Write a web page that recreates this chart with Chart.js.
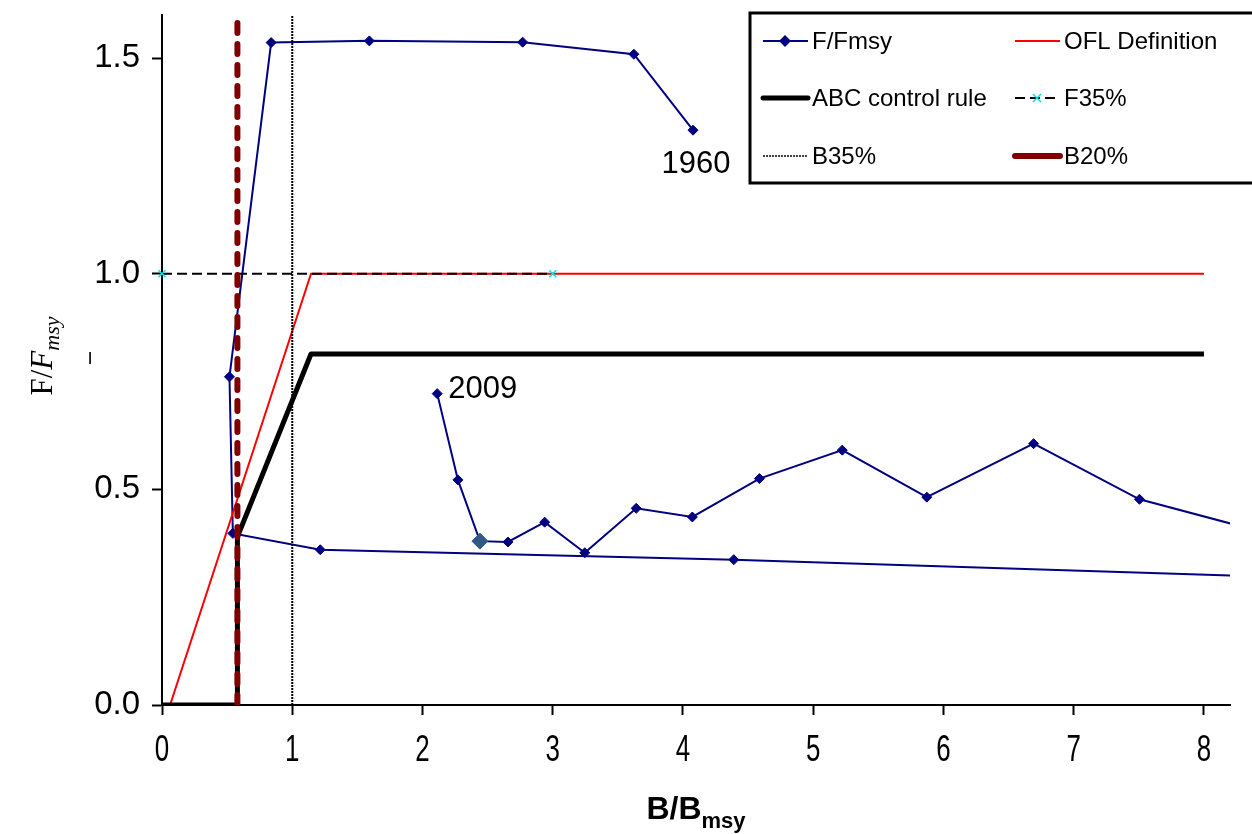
<!DOCTYPE html>
<html>
<head>
<meta charset="utf-8">
<script src="https://cdn.jsdelivr.net/npm/chart.js@4/dist/chart.umd.min.js"></script>
<style>
	body { margin: 0; background: #fff; }
	#wrap { width: 1252px; height: 834px; position: relative; }
</style>
</head>
<body>
<div id="wrap"><canvas id="chart"></canvas></div>
<script>
// stock trajectory, first point is 1960, last is 2009
const trajB = [4.077, 3.623, 2.769, 1.592, 0.838, 0.518, 0.544, 1.215, 4.39, 9.6, 9.0, 7.505, 6.692, 5.872, 5.223, 4.587, 4.072, 3.641, 3.246, 2.938, 2.656, 2.441, 2.272, 2.113]
const trajF = [1.333, 1.509, 1.537, 1.540, 1.536, 0.761, 0.398, 0.360, 0.337, 0.287, 0.357, 0.477, 0.606, 0.482, 0.591, 0.525, 0.436, 0.456, 0.353, 0.424, 0.378, 0.380, 0.522, 0.722]
const firstYear = "1960"
const lastYear = "2009"
const markedPoint = 21

// harvest control rule lines
const oflB = [0.062, 1.144, 8]
const oflF = [0, 1, 1]
const abcB = [0, 0.579, 0.579, 1.144, 8]
const abcF = [0, 0, 0.39, 0.814, 0.814]
const f35B = [0, 3]
const f35F = [1, 1]
const b35B = [1, 1]
const b35F = [0, 1.6]
const b20B = [0.579, 0.579]
const b20F = [0, 1.6]

const xTicks = [0, 1, 2, 3, 4, 5, 6, 7, 8]
const yTicks = [0, 0.5, 1, 1.5]

const pts = (xs, ys) => xs.map((x, i) => ({ x: x, y: ys[i] }))

const datasets = [
	{
		label: "F/Fmsy",
		data: pts(trajB, trajF),
		borderColor: "#000080",
		borderWidth: 2,
		pointStyle: "rectRot",
		pointRadius: trajB.map((v, i) => i == markedPoint ? 8 : 5),
		pointBackgroundColor: trajB.map((v, i) => i == markedPoint ? "#2f5a88" : "#000080"),
		pointBorderColor: trajB.map((v, i) => i == markedPoint ? "#2f5a88" : "#000080"),
		pointBorderWidth: 1,
		order: 6,
		legendMarker: "rectRot",
	},
	{
		label: "OFL Definition",
		data: pts(oflB, oflF),
		borderColor: "#ff0000",
		borderWidth: 2,
		pointRadius: 0,
		order: 5,
	},
	{
		label: "ABC control rule",
		data: pts(abcB, abcF),
		borderColor: "#000000",
		borderWidth: 5,
		borderJoinStyle: "round",
		pointRadius: 0,
		order: 4,
	},
	{
		label: "F35%",
		data: pts(f35B, f35F),
		borderColor: "#000000",
		borderWidth: 2,
		borderDash: [10, 5],
		pointStyle: "crossRot",
		pointRadius: 5,
		pointBorderColor: "#00e5e5",
		pointBorderWidth: 1.5,
		clip: 8,
		order: 3,
		legendMarker: "crossRot",
	},
	{
		label: "B35%",
		data: pts(b35B, b35F),
		borderColor: "#000000",
		borderWidth: 2,
		borderDash: [2, 1],
		pointRadius: 0,
		order: 2,
	},
	{
		label: "B20%",
		data: pts(b20B, b20F),
		borderColor: "#800000",
		borderWidth: 6,
		borderDash: [10, 11],
		borderCapStyle: "round",
		pointRadius: 0,
		order: 1,
		legendDash: [],
	},
]

// boxed two-column legend in the top right corner
const boxLegend = {
	id: "boxLegend",
	afterDraw(chart) {
		const ctx = chart.ctx
		ctx.save()
		ctx.lineWidth = 3
		ctx.strokeStyle = "#000"
		ctx.fillStyle = "#fff"
		ctx.fillRect(750, 13, 510, 170)
		ctx.strokeRect(750, 13, 510, 170)
		const cols = [763, 1015]
		const rows = [41, 98, 156]
		chart.data.datasets.forEach((ds, i) => {
			const x = cols[i % 2]
			const y = rows[Math.floor(i / 2)]
			ctx.beginPath()
			ctx.setLineDash(ds.legendDash || (ds.label == "B35%" ? [2, 1] : ds.borderDash) || [])
			ctx.lineCap = ds.borderWidth >= 5 ? "round" : "butt"
			ctx.strokeStyle = ds.borderColor
			ctx.lineWidth = ds.label == "B35%" ? 1.5 : ds.borderWidth
			ctx.moveTo(x, y)
			ctx.lineTo(x + 45, y)
			ctx.stroke()
			ctx.setLineDash([])
			if (ds.legendMarker == "rectRot") {
				ctx.fillStyle = ds.borderColor
				ctx.beginPath()
				ctx.moveTo(x + 22, y - 6); ctx.lineTo(x + 28, y); ctx.lineTo(x + 22, y + 6); ctx.lineTo(x + 16, y)
				ctx.closePath()
				ctx.fill()
			} else if (ds.legendMarker == "crossRot") {
				ctx.strokeStyle = "#00e5e5"
				ctx.lineWidth = 1.5
				ctx.beginPath()
				ctx.moveTo(x + 18, y - 4); ctx.lineTo(x + 26, y + 4)
				ctx.moveTo(x + 26, y - 4); ctx.lineTo(x + 18, y + 4)
				ctx.stroke()
			}
			ctx.fillStyle = "#000"
			ctx.font = '24px "Liberation Sans", Arial, sans-serif'
			ctx.textBaseline = "middle"
			ctx.textAlign = "left"
			ctx.fillText(ds.label, x + 49, y + 1)
		})
		ctx.restore()
	},
}

// condensed x tick labels, year labels, and the axis titles with subscripts
const annotations = {
	id: "annotations",
	afterDraw(chart) {
		const ctx = chart.ctx
		const xs = chart.scales.x
		ctx.save()
		ctx.fillStyle = "#000"
		ctx.textBaseline = "middle"
		ctx.textAlign = "center"
		ctx.font = '36px "Liberation Sans", Arial, sans-serif'
		xTicks.forEach(v => {
			ctx.save()
			ctx.translate(xs.getPixelForValue(v), 751)
			ctx.scale(0.72, 1)
			ctx.fillText(String(v), 0, 0)
			ctx.restore()
		})

		const meta = chart.getDatasetMeta(0)
		const first = meta.data[0]
		const last = meta.data[meta.data.length - 1]
		ctx.font = '31px "Liberation Sans", Arial, sans-serif'
		ctx.fillText(firstYear, first.x + 3, first.y + 34)
		ctx.textAlign = "left"
		ctx.fillText(lastYear, last.x + 11, last.y - 4)

		// stray tick beside the y title
		ctx.save()
		ctx.font = 'bold 13px "Liberation Sans", Arial, sans-serif'
		ctx.textAlign = "center"
		ctx.fillText("|", 90, 357)
		ctx.restore()

		// x title: B/Bmsy
		const area = chart.chartArea
		const cx = (area.left + area.right) / 2
		ctx.textBaseline = "alphabetic"
		const bigX = 'bold 32px "Liberation Sans", Arial, sans-serif'
		const subX = 'bold 22px "Liberation Sans", Arial, sans-serif'
		ctx.font = bigX
		const wMain = ctx.measureText("B/B").width
		ctx.font = subX
		const wSub = ctx.measureText("msy").width
		let x0 = cx - (wMain + wSub) / 2
		ctx.font = bigX
		ctx.fillText("B/B", x0, 819)
		ctx.font = subX
		ctx.fillText("msy", x0 + wMain, 828)

		// y title: F/Fmsy, rotated
		ctx.translate(52, 356)
		ctx.rotate(-Math.PI / 2)
		const big = '31px "Liberation Serif", "Times New Roman", serif'
		const bigIt = 'italic 31px "Liberation Serif", "Times New Roman", serif'
		const sub = 'italic 22px "Liberation Serif", "Times New Roman", serif'
		ctx.font = big
		const wA = ctx.measureText("F/").width
		ctx.font = bigIt
		const wB = ctx.measureText("F").width
		ctx.font = sub
		const wC = ctx.measureText("msy").width
		x0 = -(wA + wB + wC) / 2
		ctx.font = big
		ctx.fillText("F/", x0, 0)
		ctx.font = bigIt
		ctx.fillText("F", x0 + wA, 0)
		ctx.font = sub
		ctx.fillText("msy", x0 + wA + wB, 7)
		ctx.restore()
	},
}

const axisStyle = {
	border: { display: true, color: "#000", width: 2 },
	grid: { drawOnChartArea: false, drawTicks: true, tickLength: 10, tickColor: "#000", tickWidth: 2 },
}

new Chart(document.getElementById("chart"), {
	type: "scatter",
	data: { datasets: datasets.map(ds => Object.assign({ showLine: true, tension: 0, fill: false }, ds)) },
	options: {
		responsive: true,
		maintainAspectRatio: false,
		animation: false,
		events: [],
		layout: { padding: { left: 0, top: 15, right: 22, bottom: 0 } },
		plugins: { legend: { display: false }, tooltip: { enabled: false } },
		scales: {
			x: Object.assign({
				type: "linear",
				min: 0,
				max: 8.2,
				afterBuildTicks: s => { s.ticks = xTicks.map(v => ({ value: v })) },
				afterFit: s => { s.height = 129; s.paddingLeft = 0; s.paddingRight = 0 },
				ticks: { display: false },
			}, axisStyle),
			y: Object.assign({
				type: "linear",
				min: 0,
				max: 1.6,
				afterBuildTicks: s => { s.ticks = yTicks.map(v => ({ value: v })) },
				afterFit: s => { s.width = 162; s.paddingTop = 0; s.paddingBottom = 0 },
				ticks: {
					color: "#000",
					padding: 12,
					font: { family: '"Liberation Sans", Arial, sans-serif', size: 33 },
					callback: v => v.toFixed(1),
				},
			}, axisStyle),
		},
	},
	plugins: [boxLegend, annotations],
})
</script>
</body>
</html>
